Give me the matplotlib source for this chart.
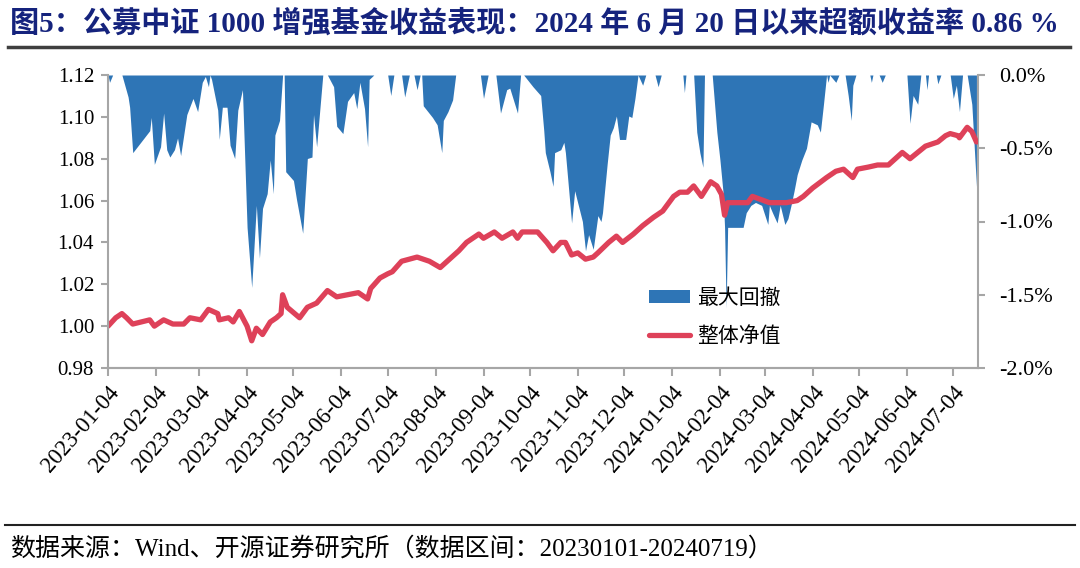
import matplotlib
matplotlib.use('Agg')
import matplotlib.pyplot as plt
import pandas as pd
from matplotlib.patches import Patch
from matplotlib.lines import Line2D

# ---------------- data ----------------
nav_dates = ['2023-01-04', '2023-01-09', '2023-01-13', '2023-01-16', '2023-01-20', '2023-01-31',
             '2023-02-03', '2023-02-09', '2023-02-15', '2023-02-22', '2023-02-26', '2023-03-05',
             '2023-03-10', '2023-03-16', '2023-03-17', '2023-03-23', '2023-03-26', '2023-03-30',
             '2023-04-04', '2023-04-07', '2023-04-10', '2023-04-14', '2023-04-19', '2023-04-23',
             '2023-04-26', '2023-04-27', '2023-04-30', '2023-05-08', '2023-05-13', '2023-05-19',
             '2023-05-26', '2023-06-01', '2023-06-08', '2023-06-15', '2023-06-21', '2023-06-23',
             '2023-06-29', '2023-07-04', '2023-07-07', '2023-07-13', '2023-07-23', '2023-07-31',
             '2023-08-07', '2023-08-13', '2023-08-19', '2023-08-24', '2023-09-01', '2023-09-04',
             '2023-09-11', '2023-09-16', '2023-09-23', '2023-09-26', '2023-09-29', '2023-10-09',
             '2023-10-15', '2023-10-19', '2023-10-24', '2023-10-27', '2023-10-31', '2023-11-04',
             '2023-11-09', '2023-11-14', '2023-11-17', '2023-11-24', '2023-11-29', '2023-12-03',
             '2023-12-10', '2023-12-16', '2023-12-23', '2023-12-29', '2024-01-05', '2024-01-09',
             '2024-01-14', '2024-01-18', '2024-01-23', '2024-01-29', '2024-02-02', '2024-02-05',
             '2024-02-07', '2024-02-09', '2024-02-22', '2024-02-25', '2024-03-07', '2024-03-18',
             '2024-03-25', '2024-03-29', '2024-04-04', '2024-04-13', '2024-04-19', '2024-04-24',
             '2024-04-30', '2024-05-03', '2024-05-10', '2024-05-16', '2024-05-23', '2024-06-01',
             '2024-06-06', '2024-06-11', '2024-06-16', '2024-06-24', '2024-06-29', '2024-07-02',
             '2024-07-07', '2024-07-08', '2024-07-13', '2024-07-16', '2024-07-19']
nav_values = [1.000, 1.004, 1.006, 1.004, 1.001, 1.003,
              1.000, 1.003, 1.001, 1.001, 1.004, 1.003,
              1.008, 1.006, 1.003, 1.004, 1.002, 1.007,
              1.000, 0.993, 0.999, 0.996, 1.002, 1.004,
              1.006, 1.015, 1.009, 1.004, 1.009, 1.011,
              1.017, 1.014, 1.015, 1.016, 1.013, 1.018,
              1.023, 1.025, 1.026, 1.031, 1.033, 1.031,
              1.028, 1.032, 1.036, 1.040, 1.044, 1.042,
              1.045, 1.042, 1.045, 1.042, 1.045, 1.045,
              1.040, 1.036, 1.040, 1.040, 1.034, 1.035,
              1.032, 1.033, 1.035, 1.040, 1.043, 1.040,
              1.044, 1.048, 1.052, 1.055, 1.062, 1.064,
              1.064, 1.067, 1.062, 1.069, 1.067, 1.063,
              1.053, 1.059, 1.059, 1.062, 1.059, 1.059,
              1.060, 1.062, 1.066, 1.071, 1.074, 1.075,
              1.071, 1.075, 1.076, 1.077, 1.077, 1.083,
              1.080, 1.083, 1.086, 1.088, 1.091, 1.092,
              1.091, 1.090, 1.095, 1.093, 1.088]

dd_dates = ['2023-01-04', '2023-01-05', '2023-01-07', '2023-01-13', '2023-01-17', '2023-01-18',
            '2023-01-20', '2023-01-31', '2023-02-01', '2023-02-03', '2023-02-07', '2023-02-09',
            '2023-02-11', '2023-02-13', '2023-02-16', '2023-02-18', '2023-02-20', '2023-02-24',
            '2023-02-28', '2023-03-03', '2023-03-06', '2023-03-08', '2023-03-10', '2023-03-11',
            '2023-03-12', '2023-03-16', '2023-03-17', '2023-03-19', '2023-03-22', '2023-03-24',
            '2023-03-27', '2023-03-29', '2023-04-01', '2023-04-04', '2023-04-07', '2023-04-10',
            '2023-04-12', '2023-04-14', '2023-04-17', '2023-04-19', '2023-04-21', '2023-04-22',
            '2023-04-25', '2023-04-27', '2023-04-28', '2023-04-29', '2023-05-04', '2023-05-06',
            '2023-05-10', '2023-05-13', '2023-05-16', '2023-05-17', '2023-05-19', '2023-05-23',
            '2023-05-26', '2023-05-30', '2023-06-01', '2023-06-05', '2023-06-08', '2023-06-12',
            '2023-06-14', '2023-06-16', '2023-06-19', '2023-06-21', '2023-06-22', '2023-06-25',
            '2023-07-04', '2023-07-06', '2023-07-08', '2023-07-13', '2023-07-15', '2023-07-18',
            '2023-07-21', '2023-07-23', '2023-07-25', '2023-07-26', '2023-07-27', '2023-07-30',
            '2023-08-02', '2023-08-05', '2023-08-08', '2023-08-09', '2023-08-12', '2023-08-15',
            '2023-08-17', '2023-09-02', '2023-09-04', '2023-09-07', '2023-09-12', '2023-09-15',
            '2023-09-19', '2023-09-21', '2023-09-26', '2023-09-28', '2023-09-30', '2023-10-06',
            '2023-10-11', '2023-10-13', '2023-10-14', '2023-10-17', '2023-10-19', '2023-10-20',
            '2023-10-24', '2023-10-26', '2023-10-27', '2023-10-31', '2023-11-02', '2023-11-07',
            '2023-11-09', '2023-11-11', '2023-11-14', '2023-11-17', '2023-11-19', '2023-11-20',
            '2023-11-23', '2023-11-25', '2023-11-27', '2023-11-29', '2023-12-01', '2023-12-05',
            '2023-12-07', '2023-12-09', '2023-12-11', '2023-12-13', '2023-12-16', '2023-12-18',
            '2023-12-24', '2023-12-26', '2023-12-28', '2024-01-11', '2024-01-12', '2024-01-13',
            '2024-01-18', '2024-01-20', '2024-01-22', '2024-01-24', '2024-01-25', '2024-01-30',
            '2024-02-02', '2024-02-04', '2024-02-06', '2024-02-07', '2024-02-08', '2024-02-09',
            '2024-02-19', '2024-02-21', '2024-02-24', '2024-02-27', '2024-03-02', '2024-03-06',
            '2024-03-07', '2024-03-09', '2024-03-12', '2024-03-14', '2024-03-17', '2024-03-19',
            '2024-03-21', '2024-03-23', '2024-03-25', '2024-03-28', '2024-03-31', '2024-04-03',
            '2024-04-07', '2024-04-09', '2024-04-11', '2024-04-13', '2024-04-14', '2024-04-15',
            '2024-04-19', '2024-04-21', '2024-04-25', '2024-04-27', '2024-04-29', '2024-04-30',
            '2024-05-02', '2024-05-11', '2024-05-12', '2024-05-13', '2024-05-17', '2024-05-19',
            '2024-05-21', '2024-06-04', '2024-06-06', '2024-06-08', '2024-06-11', '2024-06-13',
            '2024-06-16', '2024-06-17', '2024-06-18', '2024-06-23', '2024-06-24', '2024-06-26',
            '2024-07-02', '2024-07-04', '2024-07-06', '2024-07-08', '2024-07-10', '2024-07-13',
            '2024-07-16', '2024-07-19']
dd_values = [0.0, -0.05, 0.0, 0.0, -0.15, -0.22,
             -0.53, -0.38, -0.29, -0.61, -0.49, -0.26,
             -0.51, -0.56, -0.51, -0.43, -0.55, -0.27,
             -0.16, -0.25, -0.05, -0.01, -0.08, 0.0,
             -0.03, -0.24, -0.44, -0.22, -0.22, -0.48,
             -0.57, -0.24, -0.10, -1.04, -1.45, -0.89,
             -1.25, -0.91, -0.81, -0.58, -0.81, -0.41,
             -0.31, 0.0, 0.0, -0.66, -0.72, -0.85,
             -1.08, -0.57, -0.56, -0.27, -0.49, 0.0,
             0.0, -0.08, -0.35, -0.40, -0.18, -0.12,
             -0.23, -0.05, -0.23, -0.49, -0.03, 0.0,
             0.0, -0.14, 0.0, 0.0, -0.15, 0.0,
             0.0, -0.10, 0.0, 0.0, -0.21, -0.25,
             -0.29, -0.34, -0.53, -0.31, -0.25, -0.17,
             0.0, 0.0, -0.16, 0.0, 0.0, -0.26,
             -0.10, -0.09, -0.26, 0.0, 0.0, -0.08,
             -0.14, -0.38, -0.53, -0.66, -0.76, -0.53,
             -0.51, -0.46, -0.53, -1.01, -0.79, -1.00,
             -1.20, -1.09, -1.19, -0.96, -1.00, -0.94,
             -0.61, -0.41, -0.36, -0.28, -0.44, -0.44,
             -0.28, -0.29, -0.16, 0.0, -0.07, 0.0,
             0.0, -0.08, 0.0, 0.0, -0.12, 0.0,
             0.0, -0.39, -0.53, -0.63, 0.0, 0.0,
             -0.39, -0.58, -0.80, -1.04, -1.59, -1.04,
             -1.04, -0.94, -0.89, -0.87, -0.89, -1.02,
             -0.89, -0.94, -1.01, -0.89, -1.02, -0.98,
             -0.89, -0.79, -0.68, -0.58, -0.50, -0.32,
             -0.34, -0.39, -0.20, 0.0, -0.05, 0.0,
             -0.05, 0.0, 0.0, -0.14, -0.31, -0.07,
             0.0, 0.0, -0.05, 0.0, 0.0, -0.05,
             0.0, 0.0, -0.33, -0.14, -0.20, 0.0,
             0.0, -0.10, 0.0, 0.0, -0.06, 0.0,
             0.0, -0.16, -0.07, -0.25, 0.0, 0.0,
             -0.20, -0.76]

tick_dates = ['2023-01-04', '2023-02-04', '2023-03-04', '2023-04-04', '2023-05-04', '2023-06-04',
              '2023-07-04', '2023-08-04', '2023-09-04', '2023-10-04', '2023-11-04', '2023-12-04',
              '2024-01-04', '2024-02-04', '2024-03-04', '2024-04-04', '2024-05-04', '2024-06-04',
              '2024-07-04']
left_ticks = [0.98, 1.00, 1.02, 1.04, 1.06, 1.08, 1.10, 1.12]
right_ticks = [-2.0, -1.5, -1.0, -0.5, 0.0]

title = '图5：公募中证 1000 增强基金收益表现：2024 年 6 月 20 日以来超额收益率 0.86 %'
source = '数据来源：Wind、开源证券研究所（数据区间：20230101-20240719）'
legend_labels = ['最大回撤', '整体净值']

# ---------------- style ----------------
BLUE = '#2E75B6'
RED = '#DE4159'
GRID = '#A6A6A6'
FAM = ['Liberation Serif', 'Noto Sans CJK SC', 'DejaVu Sans']
CJK = ['Noto Sans CJK SC', 'DejaVu Sans']

fig = plt.figure(figsize=(10.8, 5.68), dpi=100)
W, H = 1080, 568
ax = fig.add_axes([108 / W, 1 - 368 / H, 870 / W, 293 / H])
ax2 = ax.twinx()

nd = pd.to_datetime(nav_dates)
dd = pd.to_datetime(dd_dates)

ax2.fill_between(dd, dd_values, 0, color=BLUE, linewidth=0)
ax2.set_ylim(-2.0, 0.0)
ax2.set_yticks(right_ticks)
ax2.set_yticklabels([f'{v:.1f}%' for v in right_ticks])

ax.plot(nd, nav_values, color=RED, lw=3.8, solid_joinstyle='round', solid_capstyle='round')
ax.set_ylim(0.98, 1.12)
ax.set_yticks(left_ticks)
ax.set_yticklabels([f'{v:.2f}' for v in left_ticks])

ax.set_zorder(ax2.get_zorder() + 1)
ax.patch.set_visible(False)

ax.set_xlim(pd.Timestamp('2023-01-04'), pd.Timestamp('2024-07-20'))
ticks = pd.to_datetime(tick_dates)
ax.set_xticks(ticks)
ax.set_xticklabels(tick_dates, rotation=49, ha='right', va='top', rotation_mode='anchor')

for a in (ax, ax2):
    for s in a.spines.values():
        s.set_color(GRID)
        s.set_linewidth(1.5)
    a.spines['top'].set_visible(False)
    a.tick_params(colors=GRID, length=5, width=1.5, labelcolor='black')

ax.spines['right'].set_visible(False)
ax2.spines['left'].set_visible(False)
ax.tick_params(axis='y', labelsize=15, pad=5)
ax2.tick_params(axis='y', labelsize=16, pad=10)
ax.tick_params(axis='x', labelsize=16.5, length=6, pad=4)
for lab in ax.get_yticklabels() + ax2.get_yticklabels() + ax.get_xticklabels():
    lab.set_family(FAM)

handles = [Patch(facecolor=BLUE, edgecolor='none'),
           Line2D([], [], color=RED, lw=3.8, solid_capstyle='round')]
ax.legend(handles, legend_labels, loc='upper left', bbox_to_anchor=(0.612, 0.305),
          frameon=False, prop={'family': CJK, 'size': 15}, handlelength=2.0,
          handleheight=0.6, handletextpad=0.3, labelspacing=0.75, borderaxespad=0)

fig.text(10 / W, 1 - 23 / H, title, fontsize=21, fontweight='bold', color='#15237D',
         family=FAM, va='center', ha='left')
fig.add_artist(Line2D([8 / W, 1070 / W], [1 - 47 / H, 1 - 47 / H], color='#3F3F3F', lw=2.5))
fig.add_artist(Line2D([5 / W, 1075 / W], [1 - 525 / H, 1 - 525 / H], color='#222222', lw=1.5))
fig.text(10 / W, 1 - 549 / H, source, fontsize=18, color='black', family=FAM,
         va='center', ha='left')

fig.savefig('out.png', dpi=100)
